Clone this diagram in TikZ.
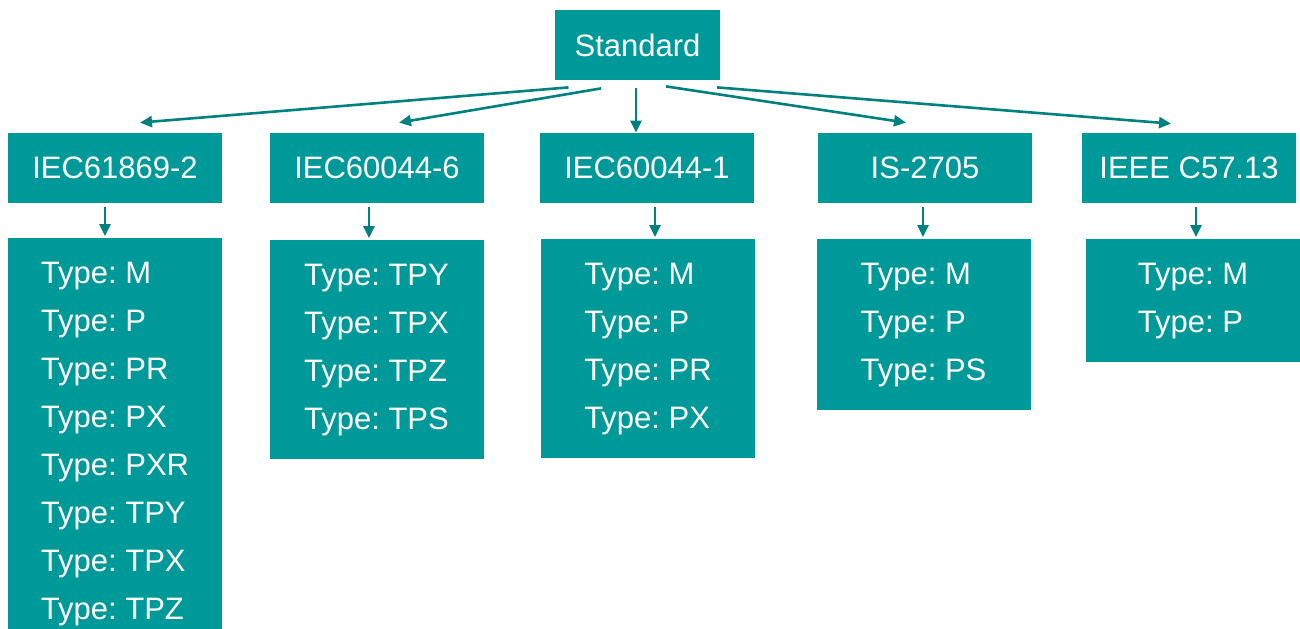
\documentclass[tikz,border=0pt]{standalone}
\usepackage{fontspec}
\setmainfont{Liberation Sans}
\usetikzlibrary{arrows.meta, positioning, calc}
\definecolor{boxfill}{HTML}{009999}
\definecolor{linkcol}{HTML}{00807F}
\frenchspacing

\begin{document}
\begin{tikzpicture}[x=0.5pt, y=-0.5pt, >={Triangle[length=6pt, width=5.5pt]},
    font=\fontsize{15.5}{24}\selectfont,
    head/.style={fill=boxfill, text=white, minimum width=107pt, minimum height=35pt, inner sep=0pt},
    typebox/.style={fill=boxfill, text=white, align=left, anchor=north,
      minimum width=107pt, inner xsep=0pt, inner ysep=11.8pt},
    link/.style={->, draw=linkcol, line width=1.3pt}]
  \useasboundingbox (0,0) rectangle (1300,628);
  \clip (0,0) rectangle (1300,628);

  % Wurzel
  \node[head, minimum width=82.5pt] (std) at (637.5,45) {Standard};

  % Normen
  \node[head] (iec1) at (115,168) {IEC61869-2};
  \node[head] (iec2) at (377,168) {IEC60044-6};
  \node[head] (iec3) at (647,168) {IEC60044-1};
  \node[head] (iec4) at (925,168) {IS-2705};
  \node[head] (iec5) at (1189,168) {IEEE C57.13};

  % Typen je Norm
  \node[typebox] (t1) at (115,238) {Type: M\\Type: P\\Type: PR\\Type: PX\\Type: PXR\\Type: TPY\\Type: TPX\\Type: TPZ};
  \node[typebox] (t2) at (376.5,240) {Type: TPY\\Type: TPX\\Type: TPZ\\Type: TPS};
  \node[typebox] (t3) at (648,239) {Type: M\\Type: P\\Type: PR\\Type: PX};
  \node[typebox] (t4) at (923.5,239) {Type: M\\Type: P\\Type: PS};
  \node[typebox] (t5) at (1193,239) {Type: M\\Type: P};

  % Pfeile Standard -> Normen
  \draw[link] ($(std.south)+(-69,7)$) -- ($(iec1.north)+(25,-10)$);
  \draw[link] ($(std.south)+(-36.5,8)$) -- ($(iec2.north)+(22,-10)$);
  \draw[link] ($(std.south)+(-1.5,8)$) -- ($(iec3.north)+(-11,0)$);
  \draw[link] ($(std.south)+(28.5,6)$) -- ($(iec4.north)+(-19,-10)$);
  \draw[link] ($(std.south)+(79.5,7)$) -- ($(iec5.north)+(-18,-9)$);

  % Pfeile Normen -> Typen
  \foreach \i/\dx in {1/-10, 2/-8, 3/8, 4/-2, 5/7} {
    \coordinate (s\i) at ($(iec\i.south)+(\dx,4)$);
    \draw[link] (s\i) -- ($(s\i |- t\i.north)+(0,-2)$);
  }
\end{tikzpicture}
\end{document}
